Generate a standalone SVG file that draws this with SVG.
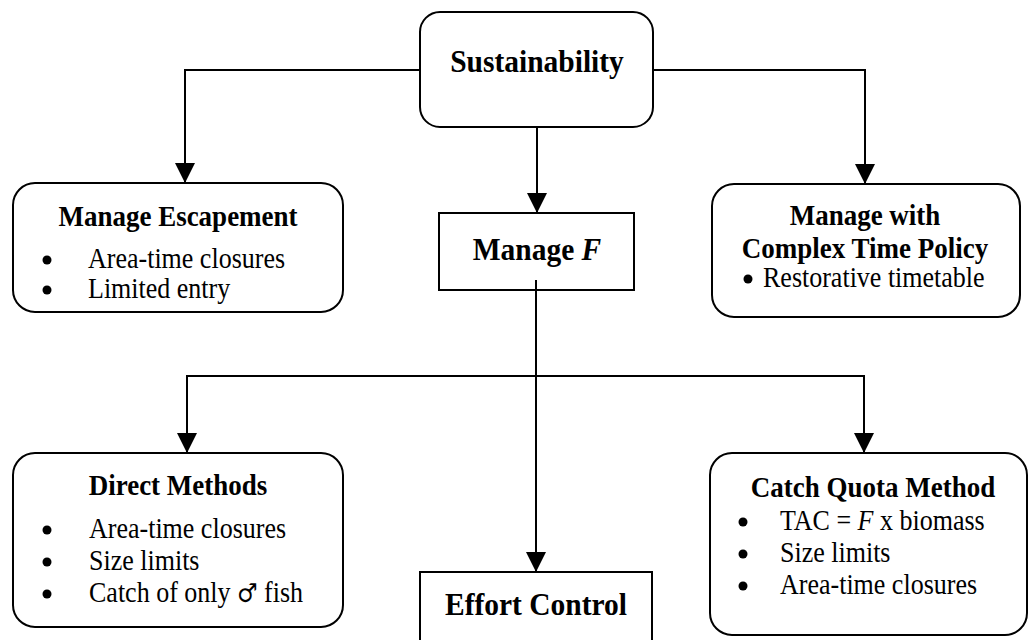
<svg xmlns="http://www.w3.org/2000/svg" width="1031" height="640" viewBox="0 0 1031 640">
<style>
  .box { fill: #fff; stroke: #000; stroke-width: 2; }
  .ln { fill: none; stroke: #000; stroke-width: 2; }
  .dot { fill: #000; }
  text { font-family: "Liberation Serif", "Times New Roman", serif; fill: #000; }
  .h { font-weight: bold; font-size: 27px; text-anchor: middle; }
  .b { font-size: 26px; }
  .t { font-weight: bold; font-size: 29.5px; text-anchor: middle; }
  .sym { font-family: "DejaVu Serif", serif; font-size: 23px; }
</style>
<defs>
  <marker id="arr" markerWidth="20" markerHeight="20" refX="20" refY="10" orient="auto" markerUnits="userSpaceOnUse">
    <path d="M0,0 L20,10 L0,20 z" fill="#000"/>
  </marker>
</defs>
<g id="sustainability">
  <rect class="box" x="420" y="12" width="233" height="115" rx="20"/>
  <text class="t" transform="translate(537 72) scale(1 1.1)">Sustainability</text>
</g>
<g id="manage-escapement">
  <rect class="box" x="13" y="183" width="330" height="129" rx="22"/>
  <text class="h" transform="translate(178 226) scale(1 1.1)">Manage Escapement</text>
  <circle class="dot" cx="47" cy="260" r="4.5"/>
  <text class="b" transform="translate(88 268) scale(1 1.1)">Area-time closures</text>
  <circle class="dot" cx="47" cy="290" r="4.5"/>
  <text class="b" transform="translate(88 298) scale(1 1.1)">Limited entry</text>
</g>
<g id="manage-f">
  <rect class="box" x="439" y="213" width="195" height="77"/>
  <text class="t" transform="translate(537 260) scale(1 1.1)">Manage <tspan font-style="italic">F</tspan></text>
</g>
<g id="complex-time">
  <rect class="box" x="712" y="184" width="308" height="133" rx="22"/>
  <text class="h" transform="translate(865 225) scale(1 1.1)">Manage with</text>
  <text class="h" transform="translate(865 258) scale(1 1.1)">Complex Time Policy</text>
  <circle class="dot" cx="748" cy="279" r="4.5"/>
  <text class="b" transform="translate(763 287) scale(1 1.1)">Restorative timetable</text>
</g>
<g id="direct-methods">
  <rect class="box" x="13" y="453" width="330" height="174" rx="22"/>
  <text class="h" transform="translate(178 495) scale(1 1.1)">Direct Methods</text>
  <circle class="dot" cx="47" cy="530" r="4.5"/>
  <text class="b" transform="translate(89 538) scale(1 1.1)">Area-time closures</text>
  <circle class="dot" cx="47" cy="562" r="4.5"/>
  <text class="b" transform="translate(89 570) scale(1 1.1)">Size limits</text>
  <circle class="dot" cx="47" cy="594" r="4.5"/>
  <text class="b" transform="translate(89 602) scale(1 1.1)">Catch of only <tspan class="sym">♂</tspan> fish</text>
</g>
<g id="catch-quota">
  <rect class="box" x="710" y="453" width="317" height="182" rx="22"/>
  <text class="h" transform="translate(873 497) scale(1 1.1)">Catch Quota Method</text>
  <circle class="dot" cx="743" cy="522" r="4.5"/>
  <text class="b" transform="translate(780 530) scale(1 1.1)">TAC = <tspan font-style="italic">F</tspan> x biomass</text>
  <circle class="dot" cx="743" cy="554" r="4.5"/>
  <text class="b" transform="translate(780 562) scale(1 1.1)">Size limits</text>
  <circle class="dot" cx="743" cy="586" r="4.5"/>
  <text class="b" transform="translate(780 594) scale(1 1.1)">Area-time closures</text>
</g>
<g id="effort-control">
  <rect class="box" x="420" y="572" width="232" height="80"/>
  <text class="t" transform="translate(536 615) scale(1 1.1)">Effort Control</text>
</g>
<g id="connectors">
  <path class="ln" d="M420,70 H185 V183" marker-end="url(#arr)"/>
  <path class="ln" d="M653,70 H865 V184" marker-end="url(#arr)"/>
  <path class="ln" d="M537,127 V213" marker-end="url(#arr)"/>
  <path class="ln" d="M536,280 V572" marker-end="url(#arr)"/>
  <path class="ln" d="M536,376 H187 V453" marker-end="url(#arr)"/>
  <path class="ln" d="M536,376 H864 V453" marker-end="url(#arr)"/>
</g>
</svg>
